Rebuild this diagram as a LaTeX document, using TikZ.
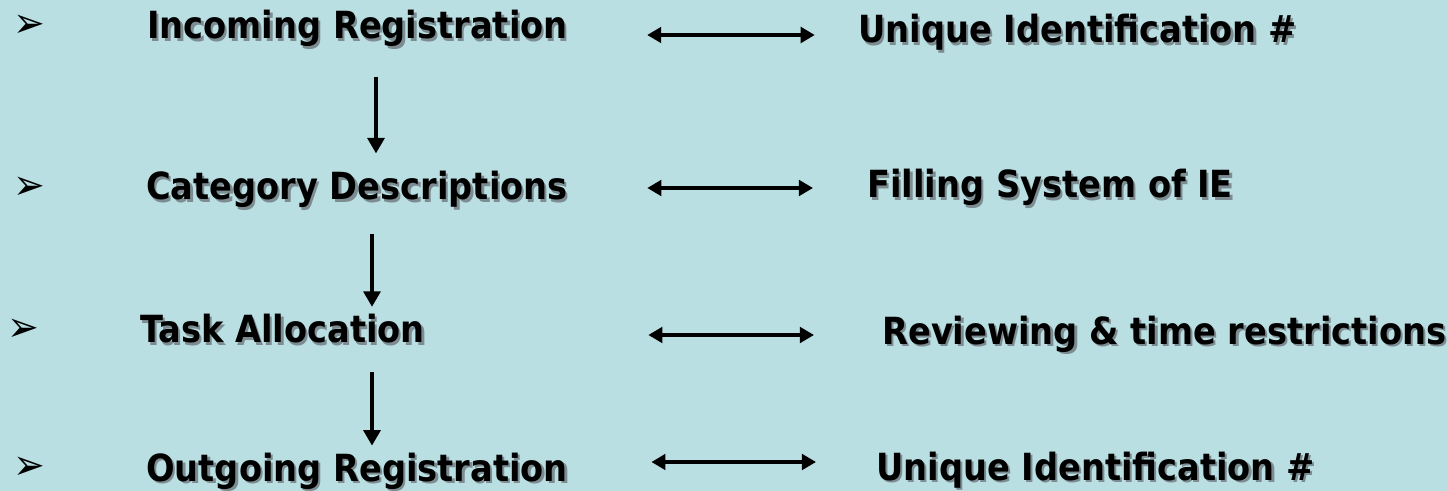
\documentclass[tikz,border=0pt]{standalone}
\usepackage{fontspec}
\setmainfont{DejaVu Sans Condensed}
\usepackage{xcolor}
\usetikzlibrary{arrows.meta}
\definecolor{slide}{RGB}{185,223,227}
\definecolor{shade}{RGB}{125,140,145}
\newcommand{\shadowed}[1]{\makebox[0pt][l]{\hspace{1.6pt}\raisebox{-1.6pt}{\color{shade}#1}}#1}

\begin{document}
\begin{tikzpicture}[x=0.025cm,y=-0.025cm,
    every node/.style={inner sep=0pt},
    title/.style={anchor=base west,text height=19pt,text depth=5pt,font=\fontsize{26.6}{30}\selectfont\bfseries},
    pointer/.style={anchor=center,font=\fontsize{30}{34}\selectfont},
    down/.style={-{Triangle[length=11pt,width=12pt]},line width=2.5pt},
    link/.style={{Triangle[length=10pt,width=11pt]}-{Triangle[length=10pt,width=11pt]},line width=2.5pt}]
  \path[use as bounding box,fill=slide] (0,0) rectangle (1447,491);
  % left column
  \node[pointer] (b1) at (29,26) {➢};
  \node[pointer] (b2) at (29,188) {➢};
  \node[pointer] (b3) at (23,330) {➢};
  \node[pointer] (b4) at (29,468) {➢};
  \node[title] (inc) at (147,39) {\shadowed{Incoming Registration}};
  \node[title] (cat) at (146,200) {\shadowed{Category Descriptions}};
  \node[title] (task) at (140,343) {\shadowed{Task Allocation}};
  \node[title] (out) at (146,481) {\shadowed{Outgoing Registration}};
  % right column
  \node[title] (uid1) at (858,43) {\shadowed{Unique Identification \#}};
  \node[title] (fill) at (867,198) {\shadowed{Filling System of IE}};
  \node[title] (rev) at (882,344) {\shadowed{Reviewing \& time restrictions}};
  \node[title] (uid2) at (876,480) {\shadowed{Unique Identification \#}};
  % flow
  \draw[down,shorten <=0.76cm,shorten >=0.49cm] (inc.south -| 376,0) -- (cat.north -| 376,0);
  \draw[down,shorten <=0.66cm,shorten >=0.23cm] (cat.south -| 372,0) -- (task.north -| 372,0);
  \draw[down,shorten <=0.54cm,shorten >=0.21cm] (task.south -| 372,0) -- (out.north -| 372,0);
  \draw[link,shorten <=1.98cm,shorten >=1.08cm] (inc.east |- 0,35) -- (uid1.west |- 0,35);
  \draw[link,shorten <=1.98cm,shorten >=1.35cm] (cat.east |- 0,188) -- (fill.west |- 0,188);
  \draw[link,shorten <=5.58cm,shorten >=1.70cm] (task.east |- 0,335) -- (rev.west |- 0,335);
  \draw[link,shorten <=2.08cm,shorten >=1.50cm] (out.east |- 0,462) -- (uid2.west |- 0,462);
\end{tikzpicture}
\end{document}
